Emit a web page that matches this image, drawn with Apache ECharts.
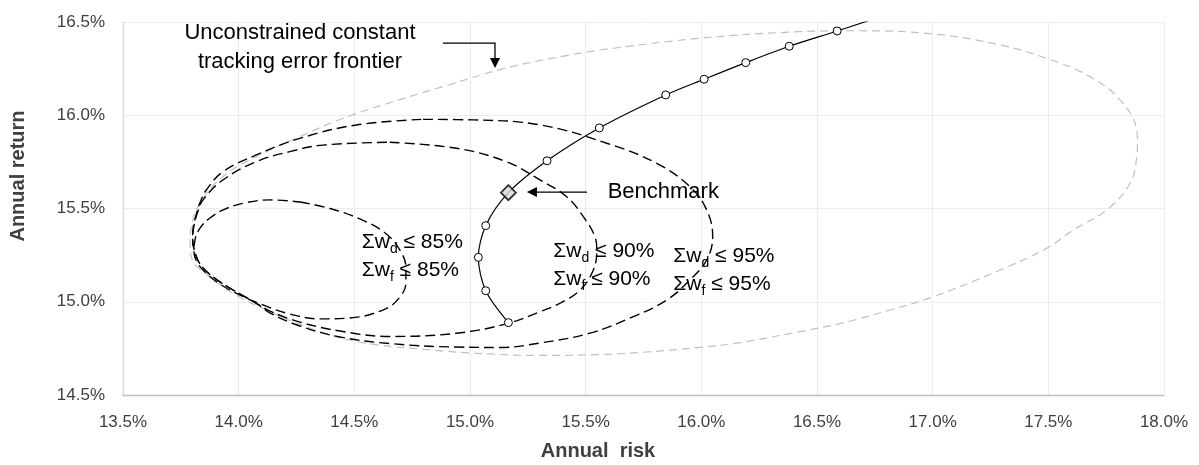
<!DOCTYPE html>
<html>
<head>
<meta charset="utf-8">
<script src="https://cdn.jsdelivr.net/npm/echarts@6/dist/echarts.min.js"></script>
<style>
html,body{margin:0;padding:0;background:#fff;}
#chart{width:1199px;height:465px;}
</style>
</head>
<body>
<div id="chart"></div>
<script>
// ---- axis ticks (annual risk / annual return, %) ----
const xTicks = [13.5, 14.0, 14.5, 15.0, 15.5, 16.0, 16.5, 17.0, 17.5, 18.0];
const yTicks = [14.5, 15.0, 15.5, 16.0, 16.5];

// ---- unconstrained constant tracking error frontier [risk, return] ----
const unconstrained = [
  [15.562,16.350],[15.994,16.413],[16.427,16.448],[16.672,16.453],[17.003,16.436],[17.291,16.377],
  [17.493,16.305],[17.680,16.207],[17.810,16.082],[17.882,15.921],[17.885,15.851],[17.882,15.778],
  [17.853,15.635],[17.752,15.492],[17.608,15.385],[17.493,15.287],[17.291,15.170],[17.003,15.027],
  [16.816,14.956],[16.599,14.883],[16.427,14.840],[16.167,14.781],[15.994,14.755],[15.735,14.728],
  [15.562,14.717],[15.303,14.712],[15.086,14.720],[14.797,14.745],[14.509,14.787],[14.292,14.866],
  [14.119,14.956],[13.976,15.045],[13.875,15.134],[13.797,15.233],[13.790,15.320],[13.795,15.402],
  [13.832,15.528],[13.932,15.671],[14.076,15.778],[14.264,15.885],[14.452,15.984],[14.697,16.084],
  [14.914,16.165],[15.130,16.245],[15.346,16.304],[15.562,16.350]
];

// ---- constrained frontier: sum wd <= 95%, sum wf <= 95% ----
const c95 = [
  [14.797,15.978],[15.013,15.975],[15.303,15.948],[15.591,15.850],[15.807,15.742],[15.951,15.617],
  [16.023,15.492],[16.049,15.349],[16.023,15.224],[15.951,15.117],[15.850,15.009],[15.706,14.920],
  [15.519,14.832],[15.303,14.779],[15.130,14.755],[14.941,14.757],[14.653,14.776],[14.438,14.811],
  [14.265,14.870],[14.135,14.940],[14.075,14.993],[13.976,15.063],[13.889,15.133],[13.833,15.202],
  [13.811,15.267],[13.801,15.331],[13.803,15.395],[13.816,15.465],[13.832,15.528],[13.860,15.599],
  [13.932,15.697],[14.076,15.787],[14.264,15.876],[14.509,15.948],[14.797,15.978]
];

// ---- constrained frontier: sum wd <= 90%, sum wf <= 90% ----
const c90 = [
  [14.653,15.855],[14.941,15.823],[15.157,15.751],[15.303,15.653],[15.418,15.563],[15.490,15.456],
  [15.540,15.349],[15.548,15.277],[15.533,15.170],[15.476,15.063],[15.389,14.992],[15.303,14.947],
  [15.164,14.884],[14.941,14.831],[14.653,14.814],[14.438,14.843],[14.265,14.891],[14.135,14.950],
  [14.075,14.993],[13.976,15.063],[13.889,15.133],[13.833,15.202],[13.811,15.267],[13.801,15.331],
  [13.805,15.395],[13.820,15.470],[13.846,15.546],[13.932,15.653],[14.076,15.751],[14.221,15.805],
  [14.365,15.840],[14.653,15.855]
];

// ---- constrained frontier: sum wd <= 85%, sum wf <= 85% ----
const c85 = [
  [14.265,15.535],[14.395,15.500],[14.524,15.444],[14.633,15.369],[14.697,15.277],[14.723,15.181],
  [14.723,15.101],[14.697,15.025],[14.633,14.961],[14.481,14.913],[14.352,14.908],[14.222,14.934],
  [14.105,14.983],[14.006,15.036],[13.919,15.095],[13.854,15.160],[13.820,15.213],[13.807,15.267],
  [13.811,15.331],[13.833,15.395],[13.876,15.449],[13.941,15.497],[14.027,15.530],[14.135,15.546],
  [14.265,15.535]
];

// ---- efficient frontier (through the benchmark) ----
const frontier = [
  [15.166,14.888],[15.068,15.059],[15.036,15.238],[15.068,15.408],[15.166,15.585],[15.333,15.756],
  [15.559,15.932],[15.846,16.109],[16.012,16.193],[16.192,16.282],[16.380,16.370],[16.587,16.452],
  [16.732,16.511]
];
const benchmark = [[15.166, 15.585]];
const benchmarkIndex = 4;

// ---- annotation texts ----
const labels = {
  unconstrained: 'Unconstrained constant\ntracking error frontier',
  benchmark: 'Benchmark',
  s85: ['85%', '85%'],
  s90: ['90%', '90%'],
  s95: ['95%', '95%']
};

const FONT = '"Liberation Sans", Arial, sans-serif';
const chart = echarts.init(document.getElementById('chart'), null, {renderer: 'canvas'});

const dashBlack = {color: '#000', width: 1.4, type: [10, 5]};
function ellipse(name, data, style, z) {
  return {
    name: name, type: 'line', data: data, smooth: 0.4, symbol: 'none',
    lineStyle: style, z: z, clip: true, silent: true, animation: false
  };
}

const frontierData = frontier.map(function (p, i) {
  const hide = (i === benchmarkIndex || i === frontier.length - 1);
  return {value: p, symbol: hide ? 'none' : 'circle'};
});

function tickFmt(list) {
  return function (v) {
    const t = list.find(function (k) { return Math.abs(k - v) < 1e-6; });
    return (t !== undefined ? t : v).toFixed(1) + '%';
  };
}

chart.setOption({
  animation: false,
  backgroundColor: '#fff',
  grid: {left: 123, right: 35, top: 22, bottom: 70},
  xAxis: {
    type: 'value', min: 13.5, max: 18.0, interval: 0.5,
    axisLine: {show: true, onZero: false, lineStyle: {color: '#bfbfbf', width: 1.3}},
    axisTick: {show: false},
    splitLine: {show: true, lineStyle: {color: '#ececec', width: 1}},
    axisLabel: {color: '#404040', fontFamily: FONT, fontSize: 17, margin: 19, formatter: tickFmt(xTicks)}
  },
  yAxis: {
    type: 'value', min: 14.5, max: 16.5, interval: 0.5,
    axisLine: {show: true, onZero: false, lineStyle: {color: '#d9d9d9', width: 1.3}},
    axisTick: {show: false},
    splitLine: {show: true, lineStyle: {color: '#ececec', width: 1}},
    axisLabel: {color: '#404040', fontFamily: FONT, fontSize: 17, margin: 18, formatter: tickFmt(yTicks)}
  },
  series: [
    ellipse('Unconstrained', unconstrained, {color: '#c0c0c0', width: 1.2, type: [8, 5]}, 2),
    ellipse('95%', c95, dashBlack, 3),
    ellipse('90%', c90, dashBlack, 3),
    ellipse('85%', c85, dashBlack, 3),
    {
      name: 'Frontier', type: 'line', data: frontierData, smooth: 0.3,
      symbol: 'circle', symbolSize: 8, showSymbol: true,
      lineStyle: {color: '#000', width: 1.2},
      itemStyle: {color: '#fff', borderColor: '#000', borderWidth: 1},
      z: 5, clip: true, silent: true
    },
    {
      name: 'Benchmark', type: 'scatter', data: benchmark, symbol: 'diamond', symbolSize: [15, 15],
      itemStyle: {color: '#d9d9d9', borderColor: '#000', borderWidth: 1.8}, z: 6, silent: true
    }
  ]
});

function P(x, y) { return chart.convertToPixel({gridIndex: 0}, [x, y]); }

const richSigma = {
  n: {fontFamily: FONT, fontSize: 21, lineHeight: 28, color: '#000'},
  s: {fontFamily: FONT, fontSize: 14, lineHeight: 12, color: '#000', verticalAlign: 'bottom'}
};
function sigmaText(pos, vals) {
  return {
    type: 'text', x: pos[0], y: pos[1], z: 20,
    style: {
      text: '{n|Σw}{s|d}{n| ≤ ' + vals[0] + '}\n{n|Σw}{s|f}{n| ≤ ' + vals[1] + '}',
      rich: richSigma, align: 'left', textAlign: 'left', verticalAlign: 'middle', textVerticalAlign: 'middle',
      fill: '#000', font: '21px ' + FONT
    }
  };
}

const g = [];
// unconstrained label + bent arrow
const uc = P(14.265, 16.363);
g.push({type: 'text', x: uc[0], y: uc[1], z: 20,
  style: {text: labels.unconstrained, font: '22px ' + FONT, fill: '#000', align: 'center', textAlign: 'center',
    verticalAlign: 'middle', textVerticalAlign: 'middle', lineHeight: 29}});
const a1 = P(14.883, 16.387), a2 = P(15.108, 16.387), a3 = P(15.108, 16.253);
g.push({type: 'polyline', z: 20, shape: {points: [a1, a2, [a3[0], a3[1] - 9]]}, style: {stroke: '#000', lineWidth: 1.3, fill: null}});
g.push({type: 'polygon', z: 20, shape: {points: [[a3[0] - 5, a3[1] - 10], [a3[0] + 5, a3[1] - 10], [a3[0], a3[1]]]}, style: {fill: '#000'}});
// benchmark label + arrow
const b1 = P(15.506, 15.588), b2 = P(15.246, 15.588);
g.push({type: 'line', z: 20, shape: {x1: b1[0], y1: b1[1], x2: b2[0] + 9, y2: b2[1]}, style: {stroke: '#000', lineWidth: 1.3}});
g.push({type: 'polygon', z: 20, shape: {points: [[b2[0] + 10, b2[1] - 5], [b2[0] + 10, b2[1] + 5], [b2[0], b2[1]]]}, style: {fill: '#000'}});
const bt = P(15.595, 15.588);
g.push({type: 'text', x: bt[0], y: bt[1], z: 20,
  style: {text: labels.benchmark, font: '22px ' + FONT, fill: '#000', align: 'left', textAlign: 'left', verticalAlign: 'middle', textVerticalAlign: 'middle'}});
// sigma constraint labels
g.push(sigmaText(P(14.532, 15.246), labels.s85));
g.push(sigmaText(P(15.360, 15.197), labels.s90));
g.push(sigmaText(P(15.879, 15.168), labels.s95));
// axis titles
g.push({type: 'text', x: 18, y: 176, rotation: Math.PI / 2, z: 20,
  style: {text: 'Annual return', font: 'bold 20px ' + FONT, fill: '#404040', align: 'center', textAlign: 'center', verticalAlign: 'middle', textVerticalAlign: 'middle'}});
g.push({type: 'text', x: 598, y: 451, z: 20,
  style: {text: 'Annual  risk', font: 'bold 20px ' + FONT, fill: '#404040', align: 'center', textAlign: 'center', verticalAlign: 'middle', textVerticalAlign: 'middle'}});

chart.setOption({graphic: g});
</script>
</body>
</html>
